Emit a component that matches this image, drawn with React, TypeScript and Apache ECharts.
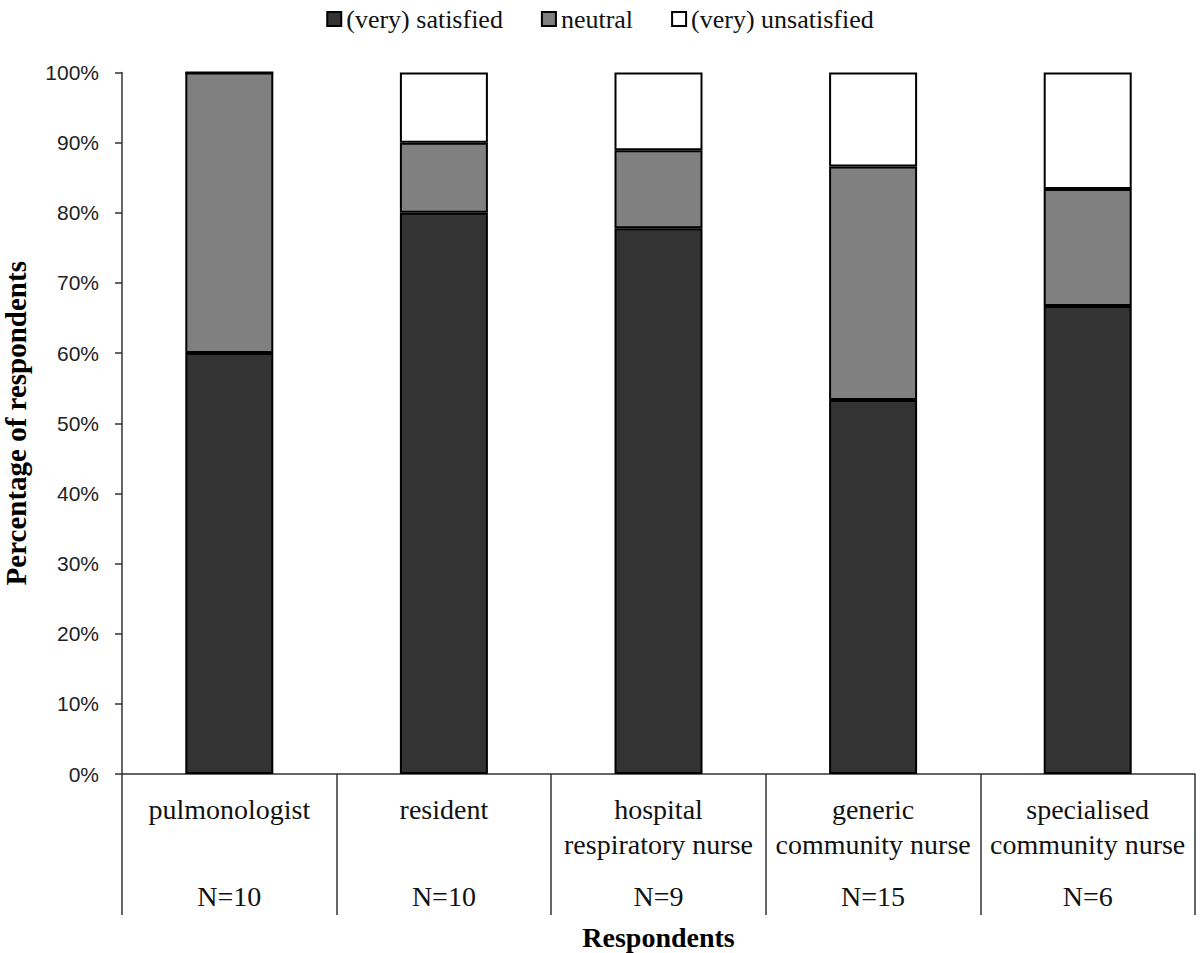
import React, { useEffect, useRef } from "react";
import * as echarts from "echarts";

const categories = [
  "pulmonologist",
  "resident",
  "hospital\nrespiratory nurse",
  "generic\ncommunity nurse",
  "specialised\ncommunity nurse",
];
const sampleSizes = ["N=10", "N=10", "N=9", "N=15", "N=6"];
const satisfied = [60, 80, 77.8, 53.3, 66.7];
const neutral = [40, 10, 11.1, 33.3, 16.7];
const unsatisfied = [0, 10, 11.1, 13.4, 16.6];
const seriesNames = ["(very) satisfied", "neutral", "(very) unsatisfied"];
const seriesColors = ["#333333", "#808080", "#ffffff"];

const SERIF = "'Liberation Serif', 'Times New Roman', serif";
const SANS = "'Liberation Sans', Arial, sans-serif";

export default function App() {
  const ref = useRef<HTMLDivElement>(null);

  useEffect(() => {
    if (!ref.current) return;
    const chart = echarts.init(ref.current, null, { renderer: "svg" });

    const labelFor = (value: string, idx: number) => {
      const lines = value.split("\n");
      const l1 = lines[0];
      const l2 = lines.length > 1 ? lines[1] : " ";
      return `{a|${l1}}\n{a|${l2}}\n{n|${sampleSizes[idx]}}`;
    };

    const data = [satisfied, neutral, unsatisfied];

    chart.setOption({
      animation: false,
      backgroundColor: "#ffffff",
      legend: {
        top: 1,
        left: "center",
        icon: "rect",
        itemWidth: 14,
        itemHeight: 14,
        itemGap: 38,
        textStyle: { fontFamily: SERIF, fontSize: 26, color: "#111" },
        data: seriesNames,
      },
      grid: {
        left: 122,
        right: 5,
        top: 72.5,
        bottom: 179,
        containLabel: false,
        outerBoundsMode: "none",
      },
      xAxis: {
        type: "category",
        data: categories,
        name: "Respondents",
        nameLocation: "middle",
        nameGap: 149,
        nameTextStyle: { fontFamily: SERIF, fontSize: 28, fontWeight: "bold", color: "#000" },
        axisLine: { show: true, lineStyle: { color: "#333", width: 1.5 } },
        axisTick: {
          show: true,
          alignWithLabel: false,
          length: 141,
          lineStyle: { color: "#333", width: 1.5 },
        },
        axisLabel: {
          interval: 0,
          margin: 18,
          formatter: labelFor,
          rich: {
            a: { fontFamily: SERIF, fontSize: 28, lineHeight: 35, color: "#111" },
            n: { fontFamily: SERIF, fontSize: 28, lineHeight: 69, color: "#111" },
          },
        },
      },
      yAxis: {
        type: "value",
        min: 0,
        max: 100,
        interval: 10,
        name: "Percentage of respondents",
        nameLocation: "middle",
        nameGap: 92,
        nameTextStyle: { fontFamily: SERIF, fontSize: 29, fontWeight: "bold", color: "#000" },
        axisLine: { show: true, lineStyle: { color: "#333", width: 1.5 } },
        axisTick: { show: true, inside: false, length: 7, lineStyle: { color: "#333", width: 1.5 } },
        splitLine: { show: false },
        axisLabel: {
          margin: 23,
          formatter: "{value}%",
          fontFamily: SANS,
          fontSize: 21,
          color: "#222",
        },
      },
      series: seriesNames.map((name, i) => ({
        name,
        type: "bar",
        stack: "total",
        barWidth: 88,
        data: data[i],
        itemStyle: { color: seriesColors[i], borderColor: "#000", borderWidth: 2 },
        emphasis: { disabled: true },
      })),
    });

    return () => chart.dispose();
  }, []);

  return (
    <div
      ref={ref}
      style={{ position: "fixed", left: 0, top: 0, width: 1200, height: 953, background: "#fff" }}
    />
  );
}
